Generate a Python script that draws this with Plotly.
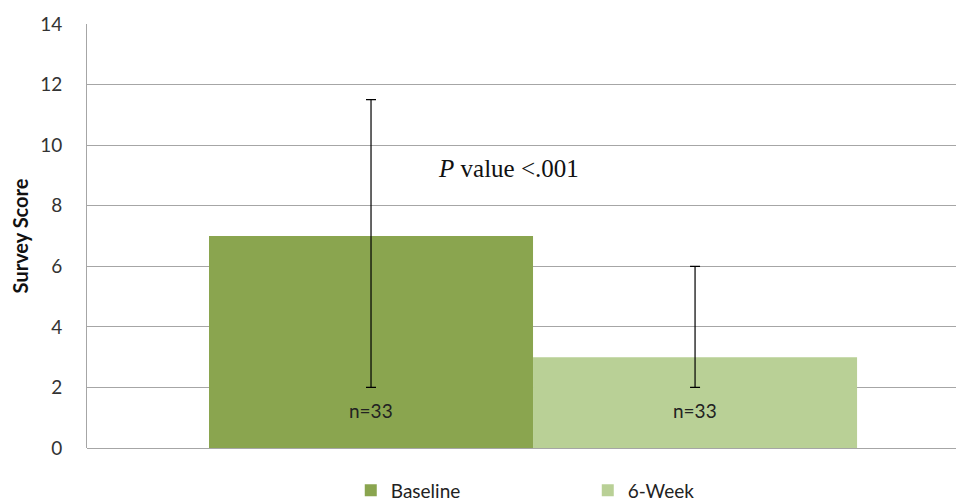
import plotly.graph_objects as go

categories = [""]
series_names = ["Baseline", "6-Week"]
means = [7.0, 3.0]
err_plus = [4.5, 3.0]
err_minus = [5.0, 1.0]
n_labels = ["n=33", "n=33"]
colors = ["#8aa54f", "#b9d096"]
y_ticks = [0, 2, 4, 6, 8, 10, 12, 14]

fig = go.Figure()
for name, m, ep, em, c in zip(series_names, means, err_plus, err_minus, colors):
    fig.add_trace(go.Bar(
        x=categories, y=[m], name=name,
        marker=dict(color=c, line=dict(width=0)),
        error_y=dict(type="data", symmetric=False, array=[ep], arrayminus=[em],
                     color="#000000", thickness=1.2, width=5),
    ))

# n labels centred on each bar (bar width 0.4 each, group centre at 0)
for i, lab in enumerate(n_labels):
    fig.add_annotation(
        x=-0.2 + 0.4 * i, y=1.25, xref="x", yref="y", showarrow=False,
        text=lab,
        font=dict(family="Lato, Open Sans, sans-serif", size=19, color="#222222"),
    )

fig.add_annotation(
    x=0.0, y=9.24, xref="x", yref="y", showarrow=False,
    xshift=-25,
    text="<i>P</i> value &lt;.001",
    font=dict(family="Liberation Serif, Times New Roman, serif", size=25, color="#111111"),
)

# page body has an 8px margin, so the figure is drawn 8px smaller and offset
fig.update_layout(
    width=956, height=494,
    margin=dict(l=79, r=0, t=16, b=54, autoexpand=False),
    plot_bgcolor="white", paper_bgcolor="white",
    barmode="group", bargap=0.2, bargroupgap=0,
    showlegend=True,
    legend=dict(orientation="h", x=0.571, xanchor="center", y=-0.1, yanchor="middle",
                font=dict(family="Lato, Open Sans, sans-serif", size=19, color="#222222"),
                entrywidth=192, entrywidthmode="pixels", itemsizing="constant"),
    xaxis=dict(range=[-0.5506, 0.532], showticklabels=False, showgrid=False,
               zeroline=False, showline=False, fixedrange=True, automargin=False),
    yaxis=dict(range=[0, 14], tickvals=y_ticks, showgrid=True, gridcolor="#a6a6a6", gridwidth=1,
               showline=True, linecolor="#a6a6a6", linewidth=1, zeroline=True,
               zerolinecolor="#a6a6a6", zerolinewidth=1, automargin=False,
               ticks="outside", ticklen=20, tickcolor="rgba(0,0,0,0)",
               tickfont=dict(family="Lato, Open Sans, sans-serif", size=19, color="#333333"),
               title=dict(text="<b>Survey Score</b>", standoff=6,
                          font=dict(family="Lato, Open Sans, sans-serif", size=20, color="#111111"))),
)

fig.write_html("out.html")
